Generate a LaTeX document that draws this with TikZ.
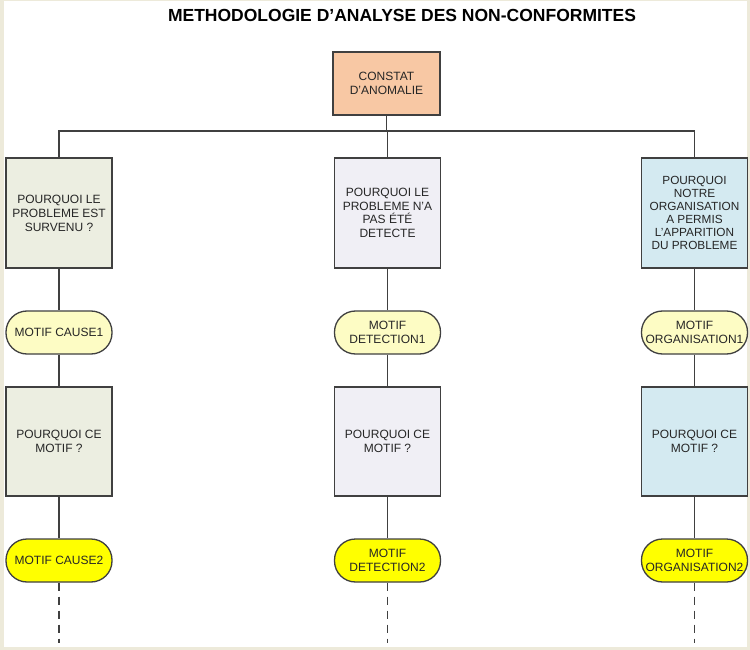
\documentclass[tikz,border=0pt]{standalone}
\usepackage{fontspec}
\setmainfont{Liberation Sans}
\definecolor{frame}{HTML}{EDEADA}
\definecolor{linec}{HTML}{404040}
\definecolor{txt}{HTML}{262626}
\definecolor{peach}{HTML}{F8C8A4}
\definecolor{greenish}{HTML}{ECEEE1}
\definecolor{lavender}{HTML}{F0EFF5}
\definecolor{lblue}{HTML}{D4EAF1}
\definecolor{ly}{HTML}{FDFCC4}
\definecolor{yy}{HTML}{FFFF00}
\begin{document}
\begin{tikzpicture}[x=1pt,y=-1pt,
  every node/.style={text=txt},
  conn/.style={draw=linec, line width=1.4pt},
  dashconn/.style={draw=linec, line width=1.4pt, dash pattern=on 8pt off 6pt},
  qbox/.style={draw=linec, line width=1.3pt, minimum width=106pt, minimum height=109pt,
    align=center, inner sep=1pt, font=\fontsize{12}{14}\selectfont},
  pill/.style={draw=linec, line width=1.3pt, minimum width=106pt, minimum height=43pt,
    rounded corners=21pt, align=center, inner sep=0pt, font=\fontsize{12}{13.5}\selectfont}]
\useasboundingbox (0,0) rectangle (750,650);
\fill[frame] (0,0) rectangle (750,650);
\fill[white] (4,1) rectangle (747,647);

\node[font=\bfseries\fontsize{17.5}{20}\selectfont, text=black, anchor=base] (title) at (402,22) {METHODOLOGIE D’ANALYSE DES NON-CONFORMITES};

\node[qbox, fill=peach, minimum width=107pt, minimum height=63pt] (c) at (386.5,83.5) {CONSTAT\\D’ANOMALIE};

\node[qbox, fill=greenish, minimum height=110pt] (a1) at (59,213) {POURQUOI LE\\PROBLEME EST\\SURVENU ?};
\node[qbox, fill=lavender, minimum height=110pt, font=\fontsize{12}{13.5}\selectfont] (b1) at (387.5,213) {POURQUOI LE\\PROBLEME N’A\\PAS ÉTÉ\\DETECTE};
\node[qbox, fill=lblue, minimum height=110pt, font=\fontsize{11.8}{13}\selectfont] (r1) at (694.5,213) {POURQUOI\\NOTRE\\ORGANISATION\\A PERMIS\\L’APPARITION\\DU PROBLEME};

\node[pill, fill=ly] (a2) at (59,332.5) {MOTIF CAUSE1};
\node[pill, fill=ly] (b2) at (387.5,332.5) {MOTIF\\DETECTION1};
\node[pill, fill=ly] (r2) at (694.5,332.5) {MOTIF\\ORGANISATION1};

\node[qbox, fill=greenish] (a3) at (59,441.5) {POURQUOI CE\\MOTIF ?};
\node[qbox, fill=lavender] (b3) at (387.5,441.5) {POURQUOI CE\\MOTIF ?};
\node[qbox, fill=lblue] (r3) at (694.5,441.5) {POURQUOI CE\\MOTIF ?};

\node[pill, fill=yy] (a4) at (59,560.5) {MOTIF CAUSE2};
\node[pill, fill=yy] (b4) at (387.5,560.5) {MOTIF\\DETECTION2};
\node[pill, fill=yy] (r4) at (694.5,560.5) {MOTIF\\ORGANISATION2};

\coordinate (hj) at (386.5,131);
\coordinate (ae) at (59,643);
\coordinate (be) at (387.5,643);
\coordinate (re) at (694.5,643);

\draw[conn] (c.south) -- (hj);
\draw[conn] (a1.north) -- (a1.north |- hj) -- (r1.north |- hj) -- (r1.north);
\draw[conn] (b1.north) -- (b1.north |- hj);

\foreach \k in {a,b,r}{
  \draw[conn] (\k1.south) -- (\k2.north);
  \draw[conn] (\k2.south) -- (\k3.north);
  \draw[conn] (\k3.south) -- (\k4.north);
  \draw[dashconn] (\k4.south) -- (\k e);
}
\end{tikzpicture}
\end{document}
